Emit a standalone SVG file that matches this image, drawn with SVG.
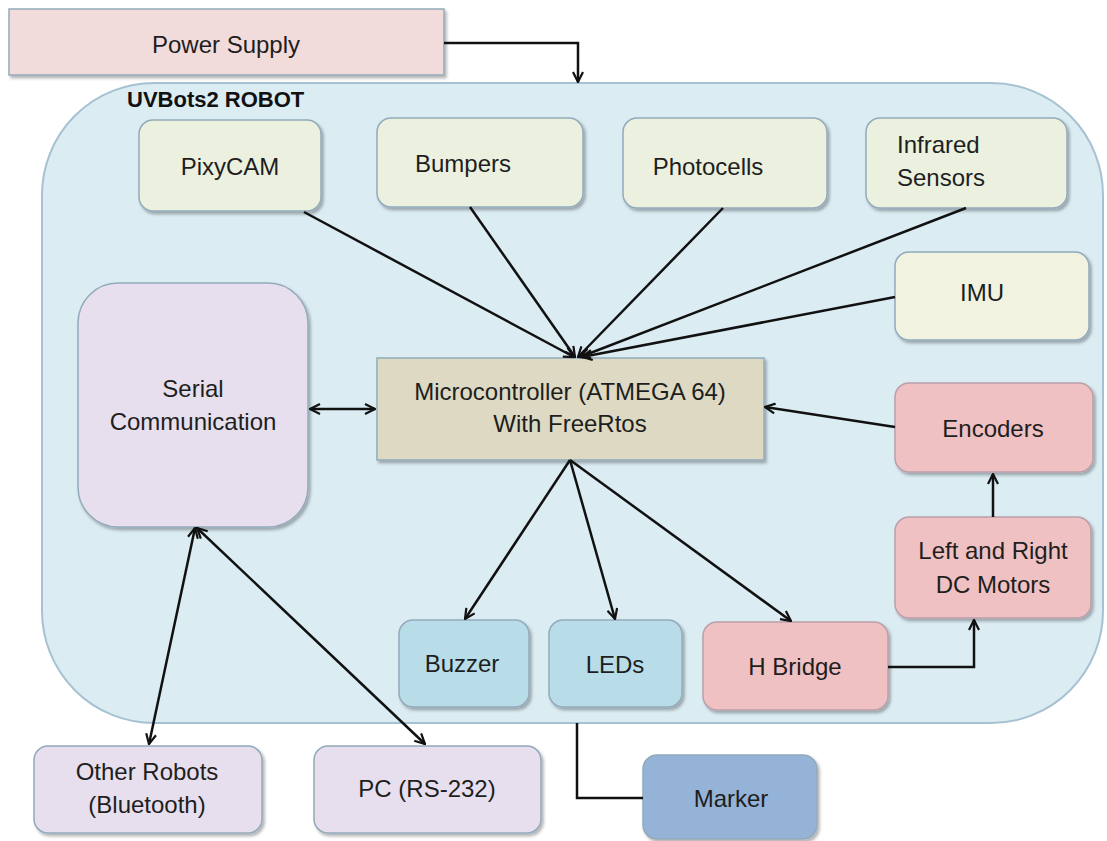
<svg xmlns="http://www.w3.org/2000/svg" width="1107" height="841" viewBox="0 0 1107 841">
<defs>
<filter id="sh" x="-10%" y="-10%" width="130%" height="130%">
<feDropShadow dx="2" dy="2.5" stdDeviation="1.5" flood-color="#000" flood-opacity="0.3"/>
</filter>
<marker id="ah" viewBox="0 0 12 12" refX="11" refY="6" markerWidth="12" markerHeight="12" markerUnits="userSpaceOnUse" orient="auto-start-reverse">
<path d="M1,1 L11,6 L1,11" fill="none" stroke="#111" stroke-width="2.2"/>
</marker>
</defs>
<style>
text{font-family:"Liberation Sans",Arial,sans-serif;font-size:24px;fill:#1e1e1e;text-anchor:middle}
.box{stroke:#93aabb;stroke-width:1.5;filter:url(#sh)}
.sens{fill:#ebf1de}
.pink{fill:#f0c1c2;stroke:#b9a0aa}
.lav{fill:#e7dfed}
.cyan{fill:#b8dde8}
.c{fill:none;stroke:#111;stroke-width:2.5}
.a{marker-end:url(#ah)}
.b{marker-start:url(#ah);marker-end:url(#ah)}
</style>
<rect width="1107" height="841" fill="#fff"/>
<g id="robot">
<rect x="42" y="83" width="1061" height="640" rx="112" ry="112" fill="#dbecf3" stroke="#a6c2d2" stroke-width="2"/>
<text x="127" y="107" style="font-weight:bold;font-size:22px;text-anchor:start;fill:#111">UVBots2 ROBOT</text>
</g>
<g id="power">
<rect class="box" x="9" y="9" width="435" height="66" fill="#f2dcdb" stroke="#c6a8b6"/>
<text x="226" y="53">Power Supply</text>
</g>
<g id="pixycam">
<rect class="box sens" x="139" y="120" width="182" height="91" rx="14"/>
<text x="230" y="175">PixyCAM</text>
</g>
<g id="bumpers">
<rect class="box sens" x="377" y="118" width="206" height="89" rx="14"/>
<text x="463" y="172">Bumpers</text>
</g>
<g id="photocells">
<rect class="box sens" x="623" y="118" width="204" height="90" rx="14"/>
<text x="708" y="175">Photocells</text>
</g>
<g id="infrared">
<rect class="box sens" x="866" y="118" width="201" height="90" rx="14"/>
<text x="897" y="153" style="text-anchor:start">Infrared</text>
<text x="897" y="186" style="text-anchor:start">Sensors</text>
</g>
<g id="imu">
<rect class="box" x="895" y="252" width="194" height="88" rx="14" fill="#f1f3e0"/>
<text x="982" y="301">IMU</text>
</g>
<g id="serial">
<rect class="box lav" x="78" y="283" width="230" height="244" rx="40"/>
<text x="193" y="397">Serial</text>
<text x="193" y="430">Communication</text>
</g>
<g id="micro">
<rect class="box" x="377" y="358" width="387" height="102" fill="#ddd9c3"/>
<text x="570" y="400">Microcontroller (ATMEGA 64)</text>
<text x="570" y="432">With FreeRtos</text>
</g>
<g id="encoders">
<rect class="box pink" x="895" y="383" width="198" height="89" rx="14"/>
<text x="993" y="437">Encoders</text>
</g>
<g id="motors">
<rect class="box pink" x="895" y="517" width="196" height="101" rx="14"/>
<text x="993" y="559">Left and Right</text>
<text x="993" y="593">DC Motors</text>
</g>
<g id="buzzer">
<rect class="box cyan" x="399" y="620" width="130" height="87" rx="14"/>
<text x="462" y="672">Buzzer</text>
</g>
<g id="leds">
<rect class="box cyan" x="549" y="620" width="133" height="87" rx="14"/>
<text x="615" y="673">LEDs</text>
</g>
<g id="hbridge">
<rect class="box pink" x="703" y="622" width="185" height="88" rx="14"/>
<text x="795" y="675">H Bridge</text>
</g>
<g id="other">
<rect class="box lav" x="34" y="746" width="228" height="87" rx="14"/>
<text x="147" y="780">Other Robots</text>
<text x="147" y="813">(Bluetooth)</text>
</g>
<g id="pc">
<rect class="box lav" x="314" y="746" width="227" height="87" rx="14"/>
<text x="427" y="797">PC (RS-232)</text>
</g>
<g id="marker">
<rect class="box" x="643" y="755" width="174" height="84" rx="14" fill="#95b3d7" stroke="#7f9dc4"/>
<text x="731" y="807">Marker</text>
</g>
<g id="connectors">
<path class="c a" d="M444,43 H578 V82"/>
<path class="c a" d="M304,212 L574,357"/>
<path class="c a" d="M470,207 L575,357"/>
<path class="c a" d="M723,208 L578,357"/>
<path class="c a" d="M966,208 L580,357"/>
<path class="c a" d="M895,297 L582,357"/>
<path class="c a" d="M895,427 L765,407"/>
<path class="c b" d="M310,409 L375,409"/>
<path class="c a" d="M570,460 L465,619"/>
<path class="c a" d="M570,460 L615,619"/>
<path class="c a" d="M570,460 L791,621"/>
<path class="c a" d="M888,667 H974 V620"/>
<path class="c a" d="M993,517 V474"/>
<path class="c b" d="M195,528 L149,744"/>
<path class="c b" d="M197,528 L425,744"/>
<path class="c" d="M577,723 V798 H643"/>
</g>
</svg>
